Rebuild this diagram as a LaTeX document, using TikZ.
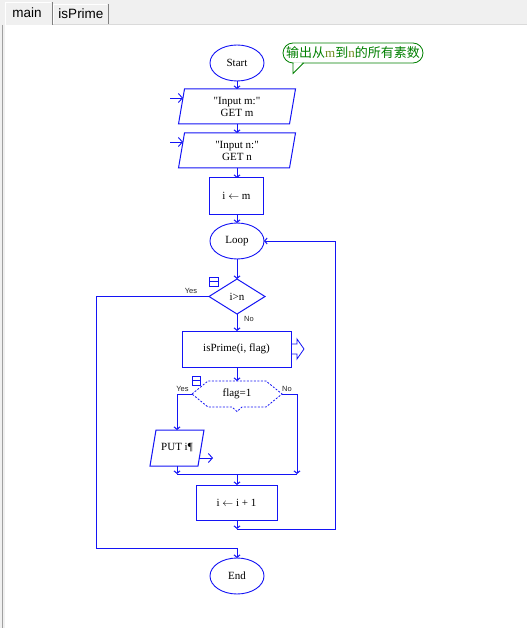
\documentclass[tikz,border=0pt]{standalone}
\usepackage{fontspec}
\setmainfont{Liberation Serif}[Ligatures=TeXOff]
\newfontfamily\uisans{Liberation Sans}
\newfontfamily\cjk{Noto Sans CJK SC}
\usetikzlibrary{arrows.meta,shapes.geometric,calc}
\definecolor{fb}{RGB}{20,20,245}
\definecolor{cg}{RGB}{0,128,0}
\definecolor{mncol}{RGB}{110,140,30}
\definecolor{bgui}{RGB}{240,240,240}
\definecolor{edgeui}{RGB}{160,160,160}
\definecolor{lineui}{RGB}{218,218,218}
\begin{document}
\begin{tikzpicture}[x=1pt,y=-1pt,
  every node/.style={inner sep=0pt, outer sep=0pt},
  fl/.style={draw=fb, line width=1pt},
  ln/.style={draw=fb, line width=1pt},
  arr/.style={draw=fb, line width=1pt, -{Straight Barb[length=2.5pt,width=6pt]}},
  arrio/.style={draw=fb, line width=0.9pt, -{Straight Barb[length=4pt,width=9pt]}},
  term/.style={ellipse, draw=fb, line width=0.9pt, minimum width=54pt, minimum height=36pt, font=\fontsize{11}{12}\selectfont},
  box/.style={draw=fb, line width=1pt, rectangle, align=center, font=\fontsize{11}{12}\selectfont},
  ghost/.style={rectangle, align=center, font=\fontsize{11}{12}\selectfont},
  lab/.style={font=\uisans\fontsize{7.5}{8}\selectfont, text=black!85},
  symb/.style={draw=fb, line width=0.8pt, rectangle, minimum width=9pt, minimum height=9pt},
  tabtxt/.style={font=\uisans\fontsize{13.5}{14}\selectfont}
]
\useasboundingbox (0,0) rectangle (527,628);
% window frame
\fill[bgui] (0,0) rectangle (527,628);
\fill[white] (5,25) rectangle (527,628);
\draw[edgeui, line width=1pt] (2.5,25) -- (2.5,628);
\draw[lineui, line width=1pt] (52,24.5) -- (527,24.5);
% tabs
\draw[white, line width=1pt] (5.5,25) -- (5.5,2.5) -- (51,2.5);
\draw[gray, line width=1pt] (52,2) -- (52,25);
\draw[white, line width=1pt] (53.5,24) -- (53.5,4.5) -- (107,4.5);
\draw[gray, line width=1pt] (108,4) -- (108,24);
\node[tabtxt] (tabmain) at (27,12.5) {main};
\node[tabtxt] (tabprime) at (81,14) {isPrime};

% callout
\node[draw=cg, line width=0.8pt, rounded corners=10pt, minimum width=140pt, minimum height=20pt, text=cg] (note) at (353,53)
  {\cjk\fontsize{13}{13}\selectfont 输出从{\rmfamily\color{mncol}m}到{\rmfamily\color{mncol}n}的所有素数};
\fill[white] (293.6,62.3) -- (293.6,72) -- (302.4,62.3) -- cycle;
\coordinate (tailA) at (293,63);
\coordinate (tailT) at (293,73.5);
\coordinate (tailB) at (303.5,63);
\draw[cg, line width=0.8pt] (tailA) -- (tailT) -- (tailB);

% nodes
\node[term] (start) at (237,63) {Start};
\node[ghost, minimum width=117pt, minimum height=35pt] (inm) at (237,106.5) {"Input m:"\\GET m};
\draw[fl] ($(inm.north west)+(6,0)$) -- (inm.north east) -- ($(inm.south east)+(-6,0)$) -- (inm.south west) -- cycle;
\node[ghost, minimum width=117pt, minimum height=35pt] (inn) at (237,150.5) {"Input n:"\\GET n};
\draw[fl] ($(inn.north west)+(6,0)$) -- (inn.north east) -- ($(inn.south east)+(-6,0)$) -- (inn.south west) -- cycle;
\node[box, minimum width=54pt, minimum height=36pt] (init) at (236.5,196) {i $\leftarrow$ m};
\node[term] (loop) at (237,241) {Loop};
\node[ghost, minimum width=56pt, minimum height=35pt] (cond) at (237,296.5) {i>n};
\draw[fl] (cond.west) -- (cond.north) -- (cond.east) -- (cond.south) -- cycle;
\node[symb] (sym1) at (213.5,281.5) {};
\draw[fb, line width=0.8pt] (sym1.west) -- (sym1.east);
\node[box, minimum width=109pt, minimum height=36pt] (call) at (236.5,349) {isPrime(i, flag)};
\draw[fb, line width=0.8pt] ($(call.east)+(0,-5)$) -- ++(6,0) -- ++(0,-5) -- ++(7,10) -- ++(-7,10) -- ++(0,-5) -- ++(-6,0);
\node[ghost, minimum width=90pt, minimum height=26pt] (flag) at (237,394) {flag=1};
\draw[fb, line width=0.8pt, dash pattern=on 2pt off 1.5pt]
  (flag.west) -- (208,381) -- (266,381) -- (flag.east) -- (266,407) -- (242,407) -- (237,411.5) -- (232,407) -- (208,407) -- cycle;
\node[symb, minimum width=8pt] (sym2) at (196,380.5) {};
\draw[fb, line width=0.8pt] (sym2.west) -- (sym2.east);
\node[ghost, minimum width=54pt, minimum height=36pt] (put) at (177,448) {PUT i\P};
\draw[fl] ($(put.north west)+(6,0)$) -- (put.north east) -- ($(put.south east)+(-6,0)$) -- (put.south west) -- cycle;
\node[box, minimum width=81pt, minimum height=35pt] (inc) at (236.5,502.5) {i $\leftarrow$ i + 1};
\node[term] (end) at (237,576) {End};

% io arrows
\coordinate (inmA) at (170,98);
\coordinate (inmB) at (183,98);
\draw[arrio] (inmA) -- (inmB);
\coordinate (innA) at (170,142);
\coordinate (innB) at (183,142);
\draw[arrio] (innA) -- (innB);
\coordinate (putA) at (199,458);
\coordinate (putB) at (213,458);
\draw[arrio] (putA) -- (putB);

% connectors
\draw[arr] (start.south) -- (inm.north);
\draw[arr] (inm.south) -- (inn.north);
\draw[arr] (inn.south) -- (init.north -| inn.south);
\draw[arr] (init.south -| loop.north) -- (loop.north);
\draw[arr] (loop.south) -- (cond.north);
\draw[arr] (cond.south) -- (call.north -| cond.south);
\draw[arr] (call.south -| flag.north) -- (flag.north);
\coordinate (yL) at (177,394);
\draw[arr] (flag.west) -- (yL) -- (put.north);
\coordinate (mL) at (177,474);
\coordinate (mR) at (297,474);
\coordinate (mC) at (237,474);
\coordinate (nR) at (297,394);
\draw[arr] (put.south) -- (mL);
\draw[arr] (flag.east) -- (nR) -- (mR);
\draw[ln] (mL) -- (mR);
\draw[arr] (mC) -- (inc.north -| mC);
\coordinate (j2) at (237,529);
\coordinate (rb) at (335,529);
\coordinate (rt) at (335,241);
\draw[arr] (inc.south -| j2) -- (j2);
\draw[arr] (j2) -- (rb) -- (rt) -- (loop.east);
\coordinate (yL2) at (96,296.5);
\coordinate (lb) at (96,548);
\coordinate (j3) at (237,548);
\draw[arr] (cond.west) -- (yL2) -- (lb) -- (j3) -- (end.north);

% labels
\node[lab] (l1) at (191,291) {Yes};
\node[lab] (l2) at (249,318.5) {No};
\node[lab] (l3) at (182.5,389) {Yes};
\node[lab] (l4) at (287,389) {No};
\end{tikzpicture}
\end{document}
